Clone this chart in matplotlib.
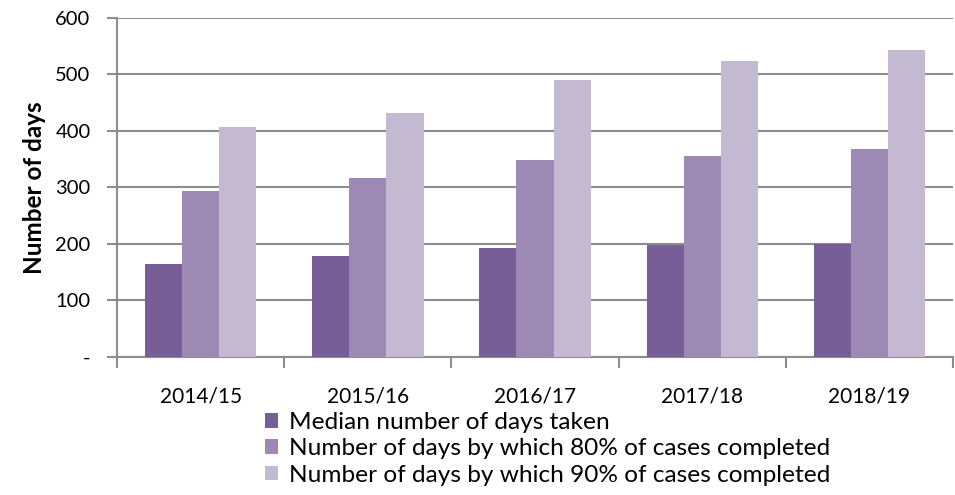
import matplotlib
matplotlib.use("Agg")
import matplotlib.pyplot as plt
import numpy as np

categories = ["2014/15", "2015/16", "2016/17", "2017/18", "2018/19"]
median_days = [164, 178, 192, 198, 200]
days_80 = [293, 316, 349, 356, 367]
days_90 = [406, 432, 489, 524, 543]
series_labels = ["Median number of days taken",
                 "Number of days by which 80% of cases completed",
                 "Number of days by which 90% of cases completed"]
y_ticks = [0, 100, 200, 300, 400, 500, 600]
y_tick_labels = ["-", "100", "200", "300", "400", "500", "600"]

colors = ["#775E96", "#9C8AB4", "#C3B9D1"]
grid_c = "#8C8C8C"

plt.rcParams['font.family'] = ['Lato', 'DejaVu Sans']

fig = plt.figure(figsize=(9.55, 4.95), dpi=100)
ax = fig.add_axes([0.1225, 0.2788, 0.8755, 0.6858])

x = np.arange(len(categories))
w = 0.222
data = [median_days, days_80, days_90]
handles = []
for i, (vals, c, lab) in enumerate(zip(data, colors, series_labels)):
    b = ax.bar(x + (i - 1) * w, vals, width=w, color=c, label=lab, zorder=3)
    handles.append(b)

ax.set_xlim(-0.5, len(categories) - 0.5)
ax.set_ylim(0, 600)
ax.set_yticks(y_ticks)
ax.set_yticklabels(y_tick_labels, fontsize=14.5)
ax.yaxis.grid(True, color=grid_c, linewidth=1.5, zorder=0)
ax.tick_params(axis='y', length=7, width=1.5, color=grid_c, pad=12)

ax.set_xticks(x)
ax.set_xticklabels(categories, fontsize=15)
ax.tick_params(axis='x', which='major', length=0, pad=21)
ax.set_xticks(np.arange(len(categories) + 1) - 0.5, minor=True)
ax.tick_params(axis='x', which='minor', length=8, width=1.5, color=grid_c)

for s in ["top", "right"]:
    ax.spines[s].set_visible(False)
for s in ["left", "bottom"]:
    ax.spines[s].set_color(grid_c)
    ax.spines[s].set_linewidth(1.5)

ax.set_ylabel("Number of days", fontsize=17.5, fontweight="bold", labelpad=7)

leg = fig.legend(handles=handles, labels=series_labels, loc="upper left",
                 bbox_to_anchor=(0.2775, 0.168), frameon=False, fontsize=17.6,
                 handlelength=0.55, handleheight=0.55, handletextpad=0.42,
                 labelspacing=0.22, borderpad=0, borderaxespad=0)

fig.savefig("out.png", dpi=100)
